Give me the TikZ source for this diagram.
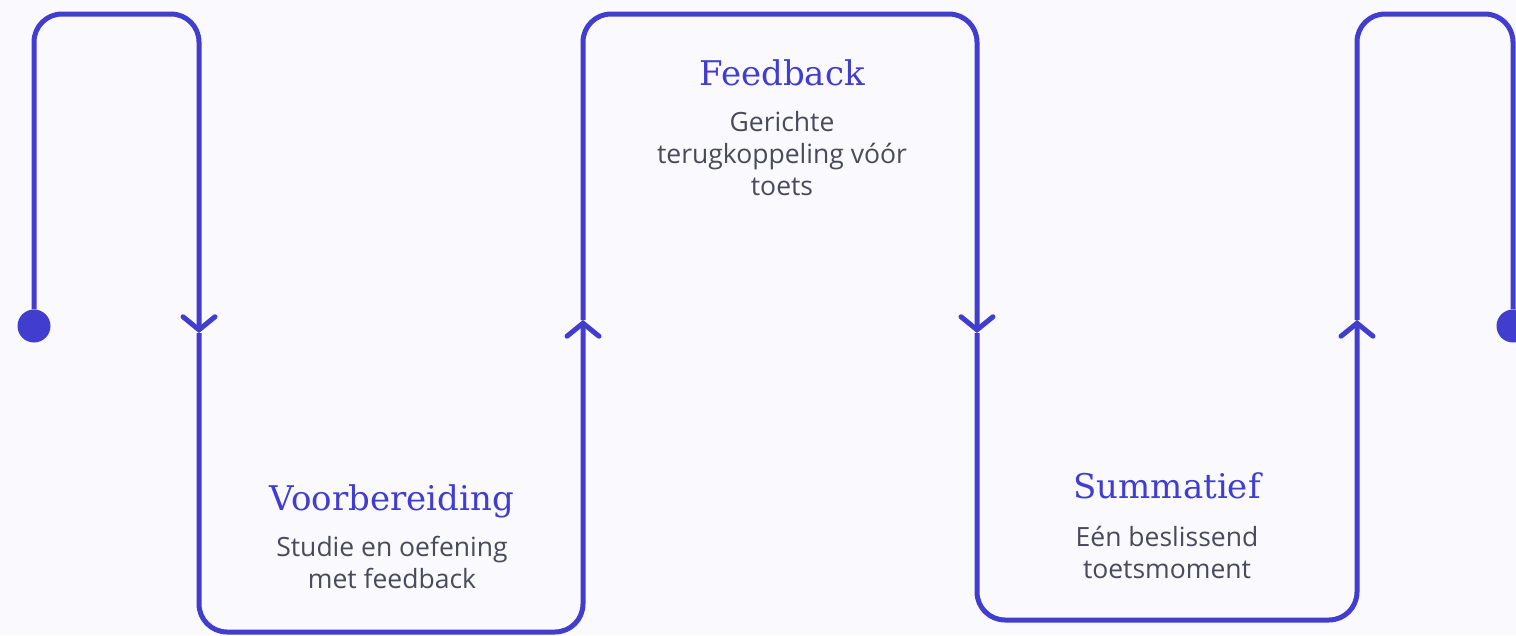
\documentclass[tikz,border=0pt]{standalone}
\usepackage{fontspec}
\setmainfont{Open Sans}
\newfontfamily\titlefont{DejaVu Serif}
\usetikzlibrary{arrows.meta}

\begin{document}
\begin{tikzpicture}[x=1pt,y=-1pt,
    	 snake line/.style={line width=5pt,draw=snakeblue,rounded corners=28pt,
    	   -{Straight Barb[length=13pt,width=32pt,line cap=round]}},
    	 end dot/.style={circle,fill=snakeblue,inner sep=0pt,minimum size=33pt},
    	 title node/.style={font=\titlefont\fontsize{34}{40}\selectfont,text=snakeblue,anchor=base},
    	 desc node/.style={font=\fontsize{26.5}{32}\selectfont,text=descgray,align=center,anchor=base}]

	\definecolor{snakeblue}{RGB}{65,61,206}
	\definecolor{descgray}{RGB}{74,74,90}
	\definecolor{pagebg}{RGB}{249,249,254}

	\clip (0,0) rectangle (1516,635);
	\fill[pagebg] (0,0) rectangle (1516,635);

	% corners of the snake
	\coordinate (c1) at (34,14);
	\coordinate (c2) at (199,14);
	\coordinate (c3) at (199,632);
	\coordinate (c4) at (583,632);
	\coordinate (c5) at (583,14);
	\coordinate (c6) at (977,14);
	\coordinate (c7) at (977,620);
	\coordinate (c8) at (1357,620);
	\coordinate (c9) at (1357,14);
	\coordinate (c10) at (1513,14);

	% arrow points halfway
	\coordinate (m1) at (199,333);
	\coordinate (m2) at (583,320);
	\coordinate (m3) at (977,333);
	\coordinate (m4) at (1357,320);

	\draw (34,326)   node[end dot] (start) {};
	\draw (1513,326) node[end dot] (end) {};

	\draw[snake line] (start) -- (c1) -- (c2) -- (m1);
	\draw[snake line] (m1) -- (c3) -- (c4) -- (m2);
	\draw[snake line] (m2) -- (c5) -- (c6) -- (m3);
	\draw[snake line] (m3) -- (c7) -- (c8) -- (m4);
	\draw[snake line,-] (m4) -- (c9) -- (c10) -- (end);

	% last line of each text sits on the given base
	\draw (392,510)  node[title node] (prep) {Voorbereiding};
	\draw (392,588)  node[desc node]  (prepdesc) {Studie en oefening\\met feedback};
	\draw (782,85)   node[title node] (feedback) {Feedback};
	\draw (782,195)  node[desc node]  (feedbackdesc) {Gerichte\\terugkoppeling vóór\\toets};
	\draw (1167,498) node[title node] (summ) {Summatief};
	\draw (1167,578) node[desc node]  (summdesc) {Eén beslissend\\toetsmoment};

\end{tikzpicture}
\end{document}
